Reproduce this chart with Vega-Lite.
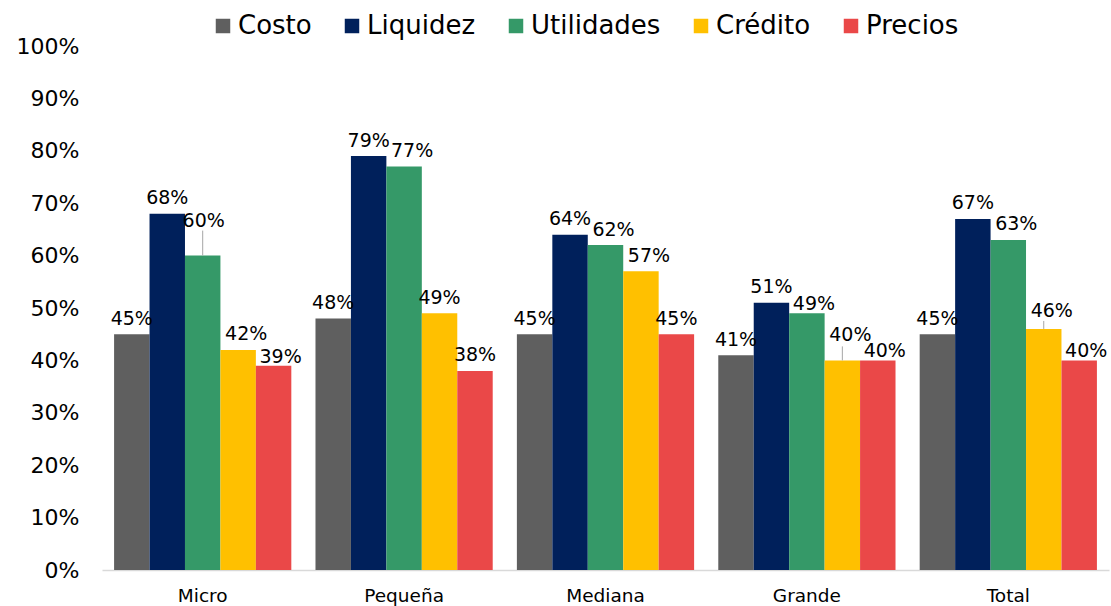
{
  "$schema": "https://vega.github.io/schema/vega-lite/v6.json",
  "width": 1007,
  "height": 524,
  "autosize": {"type": "none"},
  "padding": {"left": 102, "top": 46, "right": 2, "bottom": 36},
  "background": "white",
  "config": {"view": {"stroke": null}},
  "data": {"values": [
    {"tamano": "Micro", "serie": "Costo", "valor": 0.45},
    {"tamano": "Micro", "serie": "Liquidez", "valor": 0.68},
    {"tamano": "Micro", "serie": "Utilidades", "valor": 0.60},
    {"tamano": "Micro", "serie": "Crédito", "valor": 0.42},
    {"tamano": "Micro", "serie": "Precios", "valor": 0.39},
    {"tamano": "Pequeña", "serie": "Costo", "valor": 0.48},
    {"tamano": "Pequeña", "serie": "Liquidez", "valor": 0.79},
    {"tamano": "Pequeña", "serie": "Utilidades", "valor": 0.77},
    {"tamano": "Pequeña", "serie": "Crédito", "valor": 0.49},
    {"tamano": "Pequeña", "serie": "Precios", "valor": 0.38},
    {"tamano": "Mediana", "serie": "Costo", "valor": 0.45},
    {"tamano": "Mediana", "serie": "Liquidez", "valor": 0.64},
    {"tamano": "Mediana", "serie": "Utilidades", "valor": 0.62},
    {"tamano": "Mediana", "serie": "Crédito", "valor": 0.57},
    {"tamano": "Mediana", "serie": "Precios", "valor": 0.45},
    {"tamano": "Grande", "serie": "Costo", "valor": 0.41},
    {"tamano": "Grande", "serie": "Liquidez", "valor": 0.51},
    {"tamano": "Grande", "serie": "Utilidades", "valor": 0.49},
    {"tamano": "Grande", "serie": "Crédito", "valor": 0.40},
    {"tamano": "Grande", "serie": "Precios", "valor": 0.40},
    {"tamano": "Total", "serie": "Costo", "valor": 0.45},
    {"tamano": "Total", "serie": "Liquidez", "valor": 0.67},
    {"tamano": "Total", "serie": "Utilidades", "valor": 0.63},
    {"tamano": "Total", "serie": "Crédito", "valor": 0.46},
    {"tamano": "Total", "serie": "Precios", "valor": 0.40}
  ]},
  "encoding": {
    "x": {
      "field": "tamano", "type": "nominal",
      "sort": ["Micro", "Pequeña", "Mediana", "Grande", "Total"],
      "scale": {"paddingInner": 0.12, "paddingOuter": 0.06},
      "axis": {
        "title": null, "labelAngle": 0, "ticks": false,
        "domainColor": "#d9d9d9", "domainWidth": 1.5,
        "labelFont": "DejaVu Sans", "labelFontSize": 18.5,
        "labelColor": "#000000", "labelPadding": 16
      }
    },
    "xOffset": {"field": "serie", "sort": ["Costo", "Liquidez", "Utilidades", "Crédito", "Precios"]},
    "y": {
      "field": "valor", "type": "quantitative",
      "scale": {"domain": [0, 1]},
      "axis": {
        "title": null, "format": ".0%", "values": [0, 0.1, 0.2, 0.3, 0.4, 0.5, 0.6, 0.7, 0.8, 0.9, 1],
        "grid": false, "domain": false, "ticks": false,
        "labelFont": "DejaVu Sans", "labelFontSize": 22, "labelColor": "#000000",
        "labelPadding": 23
      }
    }
  },
  "layer": [
    {
      "mark": {"type": "bar"},
      "encoding": {
        "color": {
          "field": "serie", "type": "nominal",
          "sort": ["Costo", "Liquidez", "Utilidades", "Crédito", "Precios"],
          "scale": {
            "domain": ["Costo", "Liquidez", "Utilidades", "Crédito", "Precios"],
            "range": ["#5f5f5f", "#00205b", "#359968", "#ffc000", "#ea4848"]
          },
          "legend": {
            "title": null, "orient": "none", "direction": "horizontal",
            "legendX": 108, "legendY": -33,
            "symbolType": "square", "symbolSize": 210, "symbolStrokeWidth": 0,
            "labelFont": "DejaVu Sans", "labelFontSize": 26, "labelColor": "#000000",
            "labelOffset": 2, "columnPadding": 27
          }
        }
      }
    },
    {
      "transform": [{"filter": "indexof(['Pequeña|Utilidades','Mediana|Utilidades','Mediana|Crédito','Total|Utilidades','Micro|Crédito','Grande|Utilidades','Grande|Precios','Total|Precios','Micro|Precios','Micro|Utilidades','Grande|Crédito','Total|Crédito'], datum.tamano + '|' + datum.serie) < 0"}],
      "mark": {"type": "text", "baseline": "alphabetic", "dy": -9.5, "font": "DejaVu Sans", "fontSize": 19, "color": "#000000"},
      "encoding": {"text": {"field": "valor", "type": "quantitative", "format": ".0%"}}
    },
    {
      "transform": [{"filter": "indexof(['Pequeña|Utilidades','Mediana|Utilidades','Mediana|Crédito','Total|Utilidades','Micro|Crédito'], datum.tamano + '|' + datum.serie) >= 0"}],
      "mark": {"type": "text", "baseline": "alphabetic", "dx": 8, "dy": -9.5, "font": "DejaVu Sans", "fontSize": 19, "color": "#000000"},
      "encoding": {"text": {"field": "valor", "type": "quantitative", "format": ".0%"}}
    },
    {
      "transform": [{"filter": "indexof(['Grande|Utilidades','Grande|Precios','Total|Precios','Micro|Precios'], datum.tamano + '|' + datum.serie) >= 0"}],
      "mark": {"type": "text", "baseline": "alphabetic", "dx": 7, "dy": -3, "font": "DejaVu Sans", "fontSize": 19, "color": "#000000"},
      "encoding": {"text": {"field": "valor", "type": "quantitative", "format": ".0%"}}
    },
    {
      "transform": [{"filter": "datum.tamano == 'Micro' && datum.serie == 'Utilidades'"}],
      "mark": {"type": "text", "baseline": "alphabetic", "dx": 1, "dy": -29, "font": "DejaVu Sans", "fontSize": 19, "color": "#000000"},
      "encoding": {"text": {"field": "valor", "type": "quantitative", "format": ".0%"}}
    },
    {
      "transform": [{"filter": "datum.tamano == 'Micro' && datum.serie == 'Utilidades'"}],
      "mark": {"type": "rule", "color": "#a6a6a6", "strokeWidth": 1, "y2Offset": -25},
      "encoding": {"y2": {"field": "valor"}}
    },
    {
      "transform": [{"filter": "datum.tamano == 'Grande' && datum.serie == 'Crédito'"}],
      "mark": {"type": "text", "baseline": "alphabetic", "dx": 8, "dy": -19, "font": "DejaVu Sans", "fontSize": 19, "color": "#000000"},
      "encoding": {"text": {"field": "valor", "type": "quantitative", "format": ".0%"}}
    },
    {
      "transform": [{"filter": "datum.tamano == 'Grande' && datum.serie == 'Crédito'"}],
      "mark": {"type": "rule", "color": "#a6a6a6", "strokeWidth": 1, "y2Offset": -14},
      "encoding": {"y2": {"field": "valor"}}
    },
    {
      "transform": [{"filter": "datum.tamano == 'Total' && datum.serie == 'Crédito'"}],
      "mark": {"type": "text", "baseline": "alphabetic", "dx": 8, "dy": -12, "font": "DejaVu Sans", "fontSize": 19, "color": "#000000"},
      "encoding": {"text": {"field": "valor", "type": "quantitative", "format": ".0%"}}
    },
    {
      "transform": [{"filter": "datum.tamano == 'Total' && datum.serie == 'Crédito'"}],
      "mark": {"type": "rule", "color": "#a6a6a6", "strokeWidth": 1, "y2Offset": -8},
      "encoding": {"y2": {"field": "valor"}}
    }
  ]
}
